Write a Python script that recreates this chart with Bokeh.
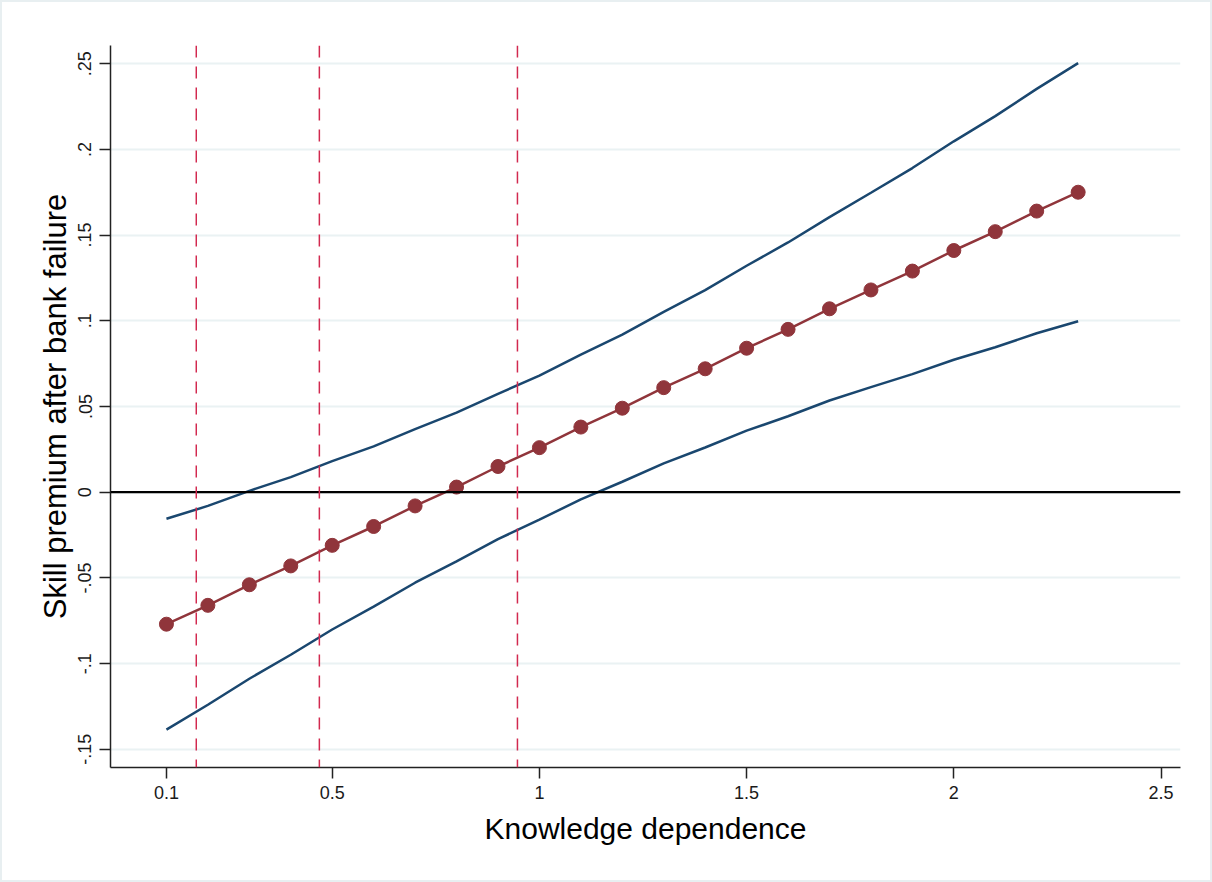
from bokeh.plotting import figure
from bokeh.models import Range1d, FixedTicker, Span
from bokeh.embed import file_html
from bokeh.resources import INLINE

# ---- data ----
knowledge = [0.1, 0.2, 0.3, 0.4, 0.5, 0.6, 0.7, 0.8, 0.9, 1.0, 1.1, 1.2,
             1.3, 1.4, 1.5, 1.6, 1.7, 1.8, 1.9, 2.0, 2.1, 2.2, 2.3]
premium = [-0.077, -0.066, -0.054, -0.043, -0.031, -0.020, -0.008, 0.003,
           0.015, 0.026, 0.038, 0.049, 0.061, 0.072, 0.084, 0.095, 0.107,
           0.118, 0.129, 0.141, 0.152, 0.164, 0.175]
upper_ci = [-0.0155, -0.0080, 0.0008, 0.0088, 0.0181, 0.0267, 0.0368, 0.0464,
            0.0574, 0.0680, 0.0802, 0.0919, 0.1052, 0.1179, 0.1321, 0.1457,
            0.1605, 0.1747, 0.1891, 0.2047, 0.2194, 0.2353, 0.2503]
lower_ci = [-0.1385, -0.1240, -0.1088, -0.0948, -0.0801, -0.0667, -0.0528,
            -0.0403, -0.0274, -0.0160, -0.0042, 0.0061, 0.0168, 0.0261,
            0.0359, 0.0443, 0.0535, 0.0613, 0.0689, 0.0773, 0.0846, 0.0927,
            0.0997]
cutoffs = [0.172, 0.469, 0.947]
x_ticks = [0.1, 0.5, 1, 1.5, 2, 2.5]
x_tick_labels = ["0.1", "0.5", "1", "1.5", "2", "2.5"]
y_ticks = [-0.15, -0.1, -0.05, 0, 0.05, 0.1, 0.15, 0.2, 0.25]
y_tick_labels = ["-.15", "-.1", "-.05", "0", ".05", ".1", ".15", ".2", ".25"]

FONT = "Liberation Sans"
GRID = "#eaf2f3"
NAVY = "#1a476f"
MAROON = "#90353b"
CRANBERRY = "#d2294f"

p = figure(width=1212, height=882, output_backend="svg", toolbar_location=None,
           x_range=Range1d(-0.035, 2.547), y_range=Range1d(-0.1606, 0.2606),
           min_border_left=108, min_border_right=34, min_border_top=43,
           min_border_bottom=117)
p.outline_line_color = None
p.background_fill_color = "white"
p.border_fill_color = "white"

# grid
p.xgrid.grid_line_color = None
p.ygrid.grid_line_color = GRID
p.ygrid.grid_line_width = 2
p.ygrid.ticker = FixedTicker(ticks=y_ticks)

# axes
p.xaxis.ticker = FixedTicker(ticks=x_ticks)
p.xaxis.major_label_overrides = {t: l for t, l in zip(x_ticks, x_tick_labels)}
p.yaxis.ticker = FixedTicker(ticks=y_ticks)
p.yaxis.major_label_overrides = {t: l for t, l in zip(y_ticks, y_tick_labels)}
p.yaxis.major_label_orientation = "vertical"
for ax in (p.xaxis, p.yaxis):
    ax.axis_line_color = "#222222"
    ax.axis_line_width = 1.5
    ax.major_tick_line_color = "#222222"
    ax.major_tick_line_width = 1.5
    ax.major_tick_out = 11
    ax.major_tick_in = 0
    ax.minor_tick_line_color = None
    ax.major_label_text_font = FONT
    ax.major_label_text_font_size = "18px"
    ax.major_label_text_color = "#1a1a1a"
    ax.axis_label_text_font = FONT
    ax.axis_label_text_font_style = "normal"
    ax.axis_label_text_color = "#000000"
p.xaxis.axis_label_text_font_size = "30px"
p.yaxis.axis_label_text_font_size = "31px"
p.xaxis.axis_label = "Knowledge dependence"
p.yaxis.axis_label = "Skill premium after bank failure"
p.xaxis.major_label_standoff = 7
p.yaxis.major_label_standoff = 8
p.xaxis.axis_label_standoff = 10
p.yaxis.axis_label_standoff = 3

# zero line
p.add_layout(Span(location=0, dimension="width", line_color="black", line_width=2.2))

# vertical cut-off lines
for c in cutoffs:
    p.add_layout(Span(location=c, dimension="height", line_color=CRANBERRY,
                      line_width=1.5, line_dash="12 9"))

# confidence bounds
p.line(knowledge, upper_ci, line_color=NAVY, line_width=2.5)
p.line(knowledge, lower_ci, line_color=NAVY, line_width=2.5)

# point estimates
p.line(knowledge, premium, line_color=MAROON, line_width=2.5)
p.scatter(knowledge, premium, size=14, fill_color=MAROON, line_color=MAROON)

p.styles = {"border": "2px solid #e8eff1", "box-sizing": "border-box"}

open("out.html", "w").write(file_html(p, INLINE))
